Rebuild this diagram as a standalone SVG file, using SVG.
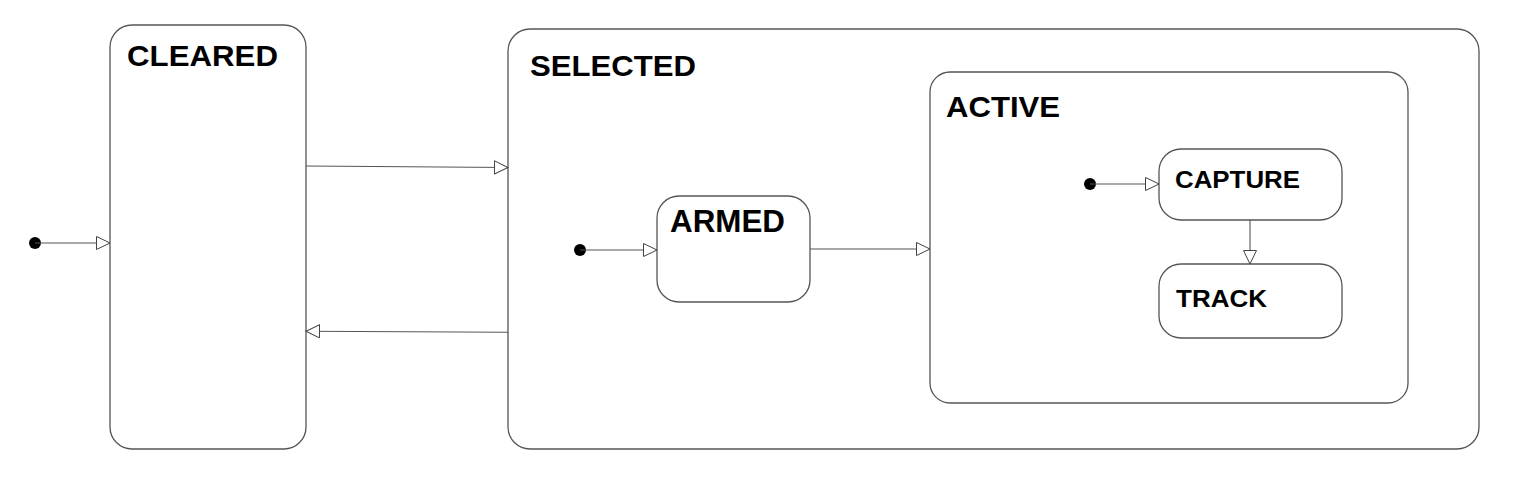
<svg xmlns="http://www.w3.org/2000/svg" width="1528" height="488" viewBox="0 0 1528 488">
<style>
.st{fill:#fff;stroke:#555;stroke-width:1.3}
.lbl{font-family:"Liberation Sans",Arial,sans-serif;font-weight:bold;fill:#000}
.c{stroke:#555;stroke-width:1.1;fill:none}
.dot{fill:#000}
</style>
<defs>
<marker id="ah" markerUnits="userSpaceOnUse" markerWidth="16" markerHeight="16" refX="14" refY="7" orient="auto">
<path d="M0.5,0.5 L14,7 L0.5,13.5 Z" fill="#fff" stroke="#444" stroke-width="1"/>
</marker>
</defs>
<rect width="1528" height="488" fill="#fff"/>
<g id="cleared"><rect class="st" x="110" y="25" width="196" height="424" rx="22"/><text class="lbl" x="127" y="66" font-size="29.5" textLength="151" lengthAdjust="spacingAndGlyphs">CLEARED</text></g>
<g id="selected"><rect class="st" x="508" y="29" width="971" height="420" rx="22"/><text class="lbl" x="530" y="76" font-size="29.5" textLength="166" lengthAdjust="spacingAndGlyphs">SELECTED</text></g>
<g id="active"><rect class="st" x="930" y="72" width="478" height="331" rx="20"/><text class="lbl" x="946" y="117" font-size="29.5" textLength="114" lengthAdjust="spacingAndGlyphs">ACTIVE</text></g>
<g id="armed"><rect class="st" x="657" y="196" width="153" height="106" rx="22"/><text class="lbl" x="670" y="232" font-size="31" textLength="115" lengthAdjust="spacingAndGlyphs">ARMED</text></g>
<g id="capture"><rect class="st" x="1159" y="149" width="183" height="71" rx="22"/><text class="lbl" x="1175" y="188" font-size="23.5" textLength="125" lengthAdjust="spacingAndGlyphs">CAPTURE</text></g>
<g id="track"><rect class="st" x="1159" y="264" width="183" height="74" rx="22"/><text class="lbl" x="1176" y="307" font-size="23.5" textLength="91" lengthAdjust="spacingAndGlyphs">TRACK</text></g>
<g id="connectors">
<circle class="dot" cx="35" cy="243" r="6"/>
<line class="c" x1="35" y1="243" x2="110" y2="243" marker-end="url(#ah)"/>
<line class="c" x1="306" y1="166" x2="508" y2="167.5" marker-end="url(#ah)"/>
<line class="c" x1="508" y1="332.3" x2="306" y2="331.3" marker-end="url(#ah)"/>
<circle class="dot" cx="580" cy="250" r="6"/>
<line class="c" x1="580" y1="250" x2="657" y2="250" marker-end="url(#ah)"/>
<line class="c" x1="810" y1="249" x2="930" y2="249" marker-end="url(#ah)"/>
<circle class="dot" cx="1090" cy="184" r="6"/>
<line class="c" x1="1090" y1="184" x2="1159" y2="184" marker-end="url(#ah)"/>
<line class="c" x1="1250" y1="220" x2="1250" y2="264" marker-end="url(#ah)"/>
</g>
</svg>
